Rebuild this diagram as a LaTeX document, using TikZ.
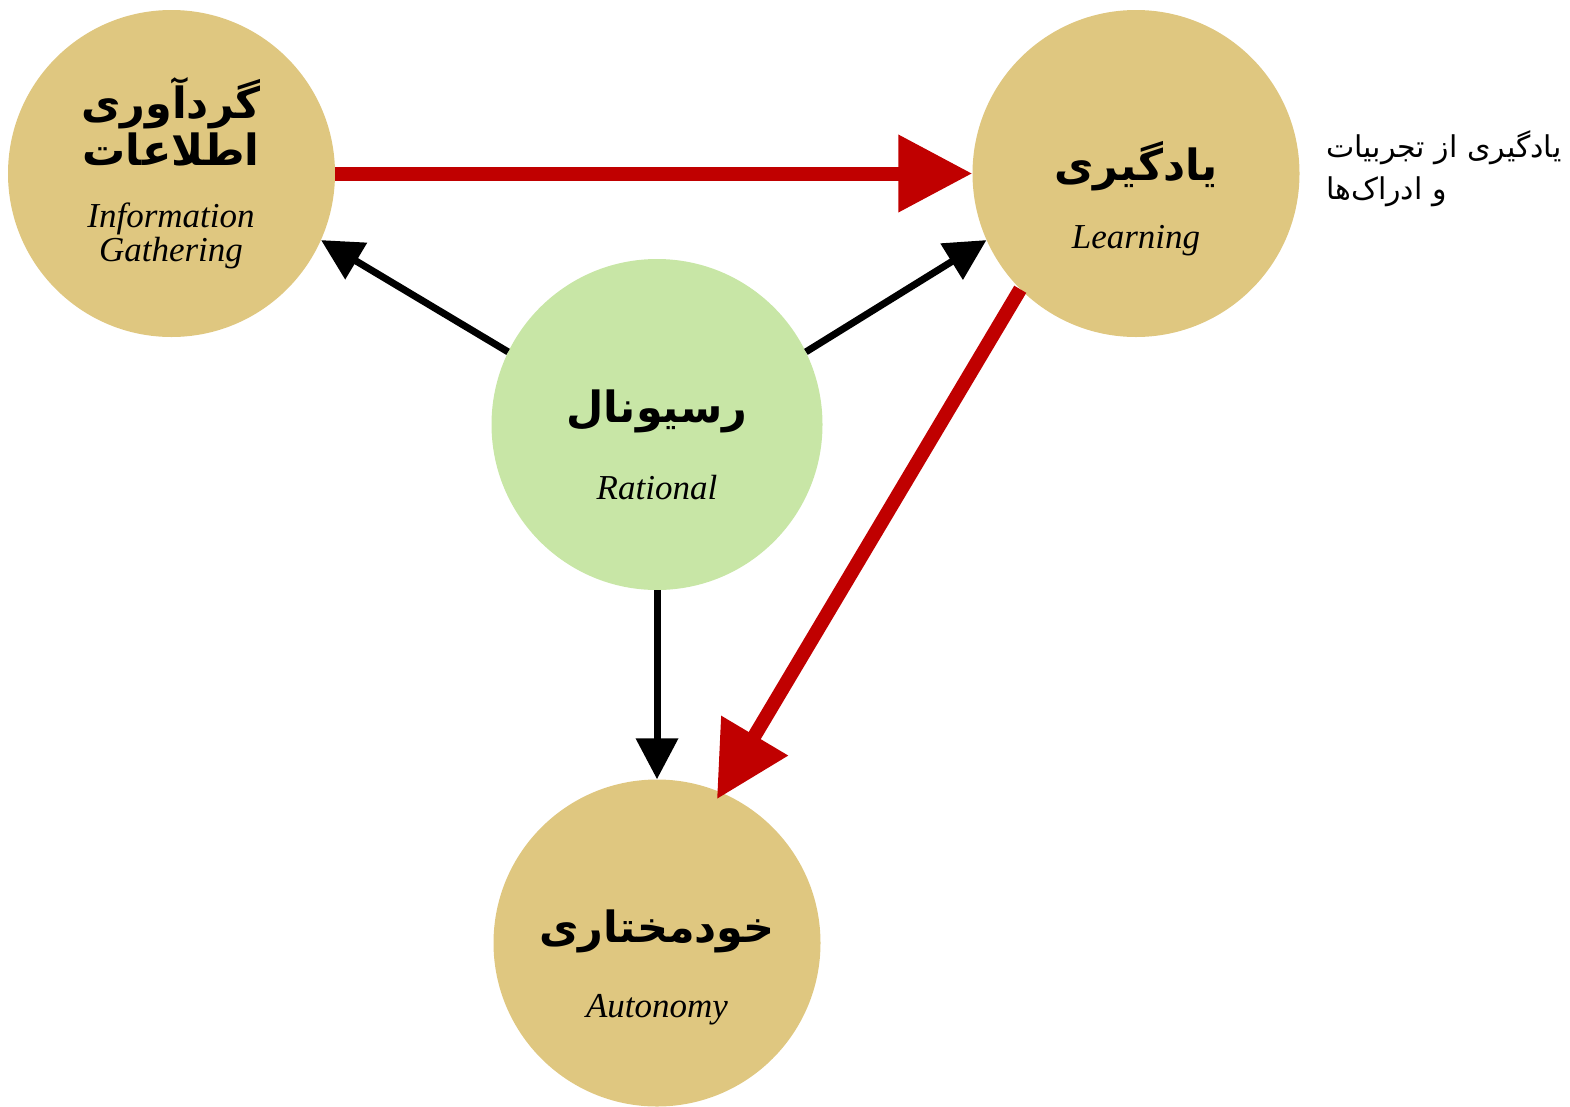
\documentclass[tikz,border=0pt]{standalone}
\usepackage{fontspec}
\usetikzlibrary{arrows.meta}
\TeXXeTstate=1
\setmainfont{Liberation Serif}
\newfontfamily\fa[Script=Arabic]{DejaVu Sans}
\newfontfamily\fabold[Script=Arabic]{DejaVu Sans Bold}
\definecolor{tan}{HTML}{DFC780}
\definecolor{leaf}{HTML}{C8E6A6}
\definecolor{darkred}{HTML}{C00000}
\tikzset{
  blob/.style={circle, minimum size=327pt, inner sep=0pt, draw=none, fill=tan},
  core/.style={blob, minimum size=331pt, fill=leaf},
  fatitle/.style={font=\fabold\fontsize{43}{47}\selectfont, align=center, inner sep=0pt},
  entitle/.style={font=\itshape\fontsize{35}{34}\selectfont, align=center, inner sep=0pt},
  note/.style={font=\fa\fontsize{30}{42}\selectfont, align=left, inner sep=0pt},
  redarrow/.style={draw=darkred, line width=14pt, -{Triangle[length=74pt,width=74pt]}, darkred},
  blackarrow/.style={draw=black, line width=7pt, -{Triangle[length=41pt,width=41pt]}}
}
\begin{document}
\begin{tikzpicture}[x=1pt, y=-1pt]
\useasboundingbox (0,0) rectangle (1570,1106);

% the four concepts
\node[blob] (info) at (171.5,173.5) {};
\node[blob] (learn) at (1136,173.5) {};
\node[core] (rat) at (657,424.5) {};
\node[blob] (auto) at (657,943) {};

% titles
\node[fatitle] (infoFa) at (171,122) {\beginR گردآوری\endR\\\beginR اطلاعات\endR};
\node[entitle] (infoEn) at (171,236) {Information\\Gathering};
\node[fatitle] (learnFa) at (1136,166) {\beginR یادگیری\endR};
\node[entitle] (learnEn) at (1136,241) {Learning};
\node[fatitle] (ratFa) at (657,411) {\beginR رسیونال\endR};
\node[entitle] (ratEn) at (657,488) {Rational};
\node[fatitle] (autoFa) at (657,931) {\beginR خودمختاری\endR};
\node[entitle] (autoEn) at (657,1010) {Autonomy};

% side note
\node[note, anchor=north west] (learnNote) at (1326,130) {\beginR یادگیری از تجربیات\endR\\\beginR و ادراک‌ها\endR};

% connectors
\draw[redarrow] (info) -- (learn);
\draw[redarrow, shorten >=-8pt] (learn.225) -- (auto.67);
\draw[blackarrow] (rat.154) -- (info.-24.5);
\draw[blackarrow] (rat.26) -- (learn.204.5);
\draw[blackarrow] (rat.south) -- (auto.north);
\end{tikzpicture}
\end{document}
